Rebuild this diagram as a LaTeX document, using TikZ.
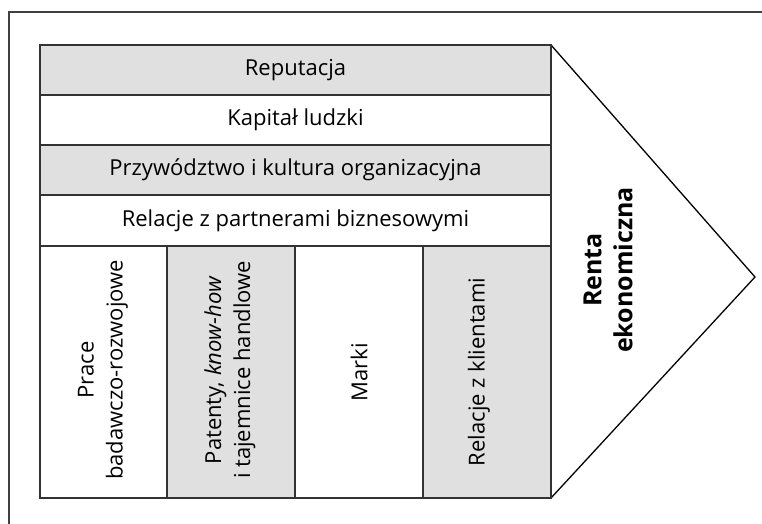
\documentclass[tikz,border=0pt]{standalone}
\usepackage{fontspec}
\setmainfont{Open Sans}
\definecolor{cellgrey}{HTML}{E0E0E0}
\definecolor{frameline}{HTML}{333333}
\tikzset{
  cell/.style={draw=frameline, line width=1.6pt},
  greycell/.style={cell, fill=cellgrey},
  rowtext/.style={font=\fontsize{22}{26}\selectfont, inner sep=0pt},
  coltext/.style={font=\fontsize{22}{29}\selectfont, align=center, rotate=90, inner sep=0pt},
  rentatext/.style={font=\fontsize{25}{31}\selectfont\bfseries, align=center, rotate=90, inner sep=0pt}
}
\begin{document}
\begin{tikzpicture}[x=1pt,y=-1pt]
\useasboundingbox (0,0) rectangle (762,524);
% outer frame (only top and left edges visible)
\draw[line width=1.1pt, draw=black!75] (9,524) -- (9,12) -- (762,12);
% arrow/pentagon shape
\draw[line width=1.3pt] (551,45) -- (755,277) -- (551,498);
% rows
\draw[greycell] (40,45) rectangle (551,95);
\draw[cell, fill=white] (40,95) rectangle (551,145);
\draw[greycell] (40,145) rectangle (551,195);
\draw[cell, fill=white] (40,195) rectangle (551,246);
% columns
\draw[cell, fill=white] (40,246) rectangle (167,498);
\draw[greycell] (167,246) rectangle (295,498);
\draw[cell, fill=white] (295,246) rectangle (423,498);
\draw[greycell] (423,246) rectangle (551,498);
% row texts
\node[rowtext] (rep) at (295.5,70) {Reputacja};
\node[rowtext] (kap) at (295.5,120) {Kapitał ludzki};
\node[rowtext] (prz) at (295.5,170) {Przywództwo i kultura organizacyjna};
\node[rowtext] (rel) at (295.5,221) {Relacje z partnerami biznesowymi};
% column texts
\node[coltext] (prace) at (103,370) {Prace\\badawczo-rozwojowe};
\node[coltext] (pat) at (230,370) {Patenty, \textit{know-how}\\i tajemnice handlowe};
\node[coltext] (marki) at (359,372) {Marki};
\node[coltext] (klient) at (479,372) {Relacje z klientami};
% renta
\node[rentatext] (renta) at (608,270) {Renta\\ekonomiczna};
\end{tikzpicture}
\end{document}
